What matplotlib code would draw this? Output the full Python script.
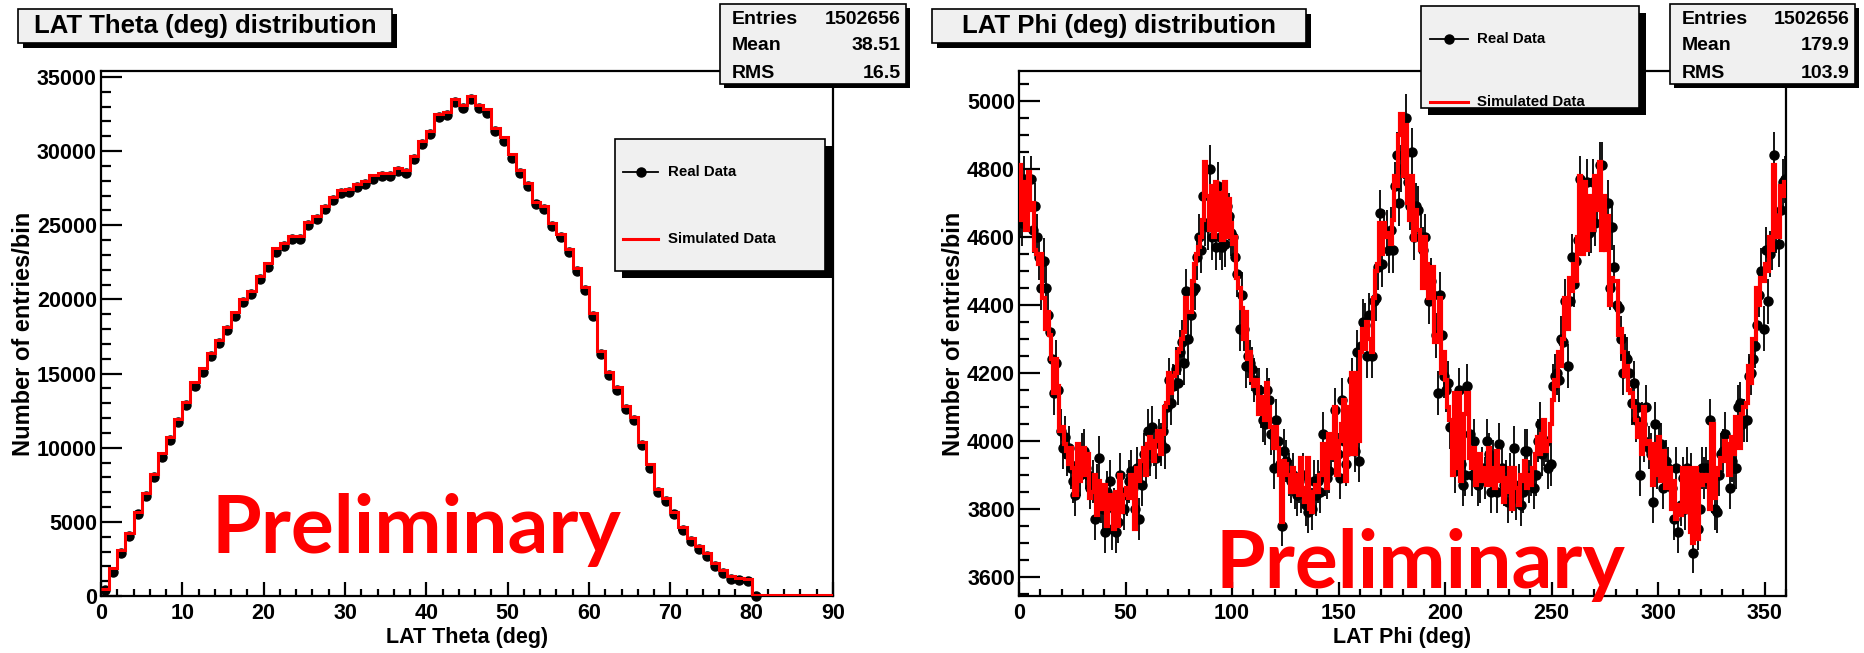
import numpy as np
import matplotlib
matplotlib.use("Agg")
import matplotlib.pyplot as plt
from matplotlib.patches import Rectangle
from matplotlib.ticker import MultipleLocator, FormatStrFormatter

# ---------------- data: 1 degree bins ----------------
# LAT theta, simulated (red histogram), bins 0..89
theta_sim = [500, 1860, 3130, 4280, 5680, 6960, 8230, 9630, 10730, 11930,
             13080, 14430, 15370, 16390, 17280, 18170, 19120, 20040, 20550, 21560,
             22430, 23450, 23780, 24290, 24290, 25240, 25640, 26330, 26920, 27350,
             27430, 27780, 27990, 28370, 28550, 28500, 28880, 28700, 29650, 30660,
             31350, 32530, 32630, 33520, 33090, 33720, 33090, 32830, 31560, 30920,
             29770, 28750, 27860, 26590, 26330, 25180, 24420, 23400, 22130, 20850,
             19070, 16520, 15120, 14100, 12820, 12060, 10400, 8870, 7210, 6580,
             5680, 4660, 3900, 3390, 2880, 2240, 1730, 1350, 1220, 1170,
             90, 70, 60, 60, 60, 60, 60, 60, 60, 60]
# LAT theta, real data (black points), bins 0..80
theta_real = [380, 1650, 2900, 4050, 5500, 6750, 8000, 9400, 10500, 11700,
              12850, 14150, 15100, 16150, 17050, 17950, 18900, 19800, 20350, 21350,
              22200, 23200, 23600, 24100, 24100, 25000, 25400, 26100, 26700, 27150,
              27250, 27550, 27800, 28150, 28350, 28300, 28650, 28500, 29450, 30450,
              31150, 32300, 32450, 33300, 32900, 33500, 32900, 32600, 31350, 30700,
              29550, 28550, 27650, 26400, 26100, 24950, 24200, 23200, 21900, 20650,
              18850, 16350, 14900, 13900, 12600, 11850, 10200, 8650, 7000, 6400,
              5500, 4450, 3700, 3200, 2700, 2050, 1550, 1150, 1050, 1000,
              20]

# LAT phi, real data (black points), bins 0..359
phi_real = [4670, 4640, 4770, 4700, 4690, 4770, 4620, 4690, 4600, 4540,
            4450, 4530, 4450, 4370, 4320, 4240, 4140, 4230, 4150, 4030,
            3980, 4010, 3960, 3980, 3920, 3880, 3840, 3930, 3900, 3960,
            3970, 3920, 3900, 3860, 3880, 3770, 3870, 3950, 3820, 3800,
            3730, 3850, 3880, 3740, 3800, 3730, 3760, 3900, 3850, 3800,
            3840, 3880, 3910, 3860, 3800, 3920, 3770, 3870, 3960, 3930,
            4030, 3960, 4040, 3990, 3950, 4000, 3990, 4030, 3980, 4100,
            4180, 4110, 4160, 4210, 4170, 4260, 4290, 4230, 4440, 4300,
            4370, 4440, 4450, 4540, 4600, 4560, 4720, 4640, 4630, 4800,
            4600, 4700, 4570, 4750, 4600, 4570, 4580, 4690, 4660, 4610,
            4600, 4540, 4490, 4330, 4430, 4330, 4220, 4250, 4230, 4210,
            4180, 4150, 4150, 4100, 4060, 4050, 4150, 4120, 4020, 3920,
            4060, 4000, 3930, 3750, 3970, 3940, 3900, 3880, 3900, 3860,
            3840, 3880, 3850, 3900, 3810, 3790, 3840, 3800, 3880, 3840,
            3880, 3850, 4020, 3900, 3890, 3910, 3960, 4000, 4090, 3960,
            3890, 4120, 4000, 3930, 3970, 4030, 4180, 3970, 4260, 3940,
            4280, 4350, 4340, 4250, 4370, 4250, 4410, 4420, 4510, 4670,
            4520, 4610, 4610, 4560, 4620, 4560, 4750, 4840, 4700, 4800,
            4840, 4950, 4760, 4690, 4850, 4600, 4690, 4680, 4600, 4560,
            4600, 4510, 4410, 4470, 4430, 4310, 4140, 4430, 4310, 4190,
            4150, 4170, 4040, 4050, 3910, 3990, 4150, 3930, 3870, 3900,
            4160, 4020, 3900, 4000, 3930, 3870, 3880, 3920, 3890, 4000,
            3960, 3850, 3940, 3900, 3850, 3990, 3920, 3870, 3880, 3820,
            3900, 3850, 3980, 3830, 3870, 3810, 3850, 3970, 3970, 3880,
            3900, 3860, 3900, 4000, 4050, 3960, 3990, 4000, 3920, 3930,
            4160, 4190, 4200, 4180, 4300, 4290, 4410, 4220, 4410, 4540,
            4460, 4530, 4590, 4770, 4680, 4660, 4760, 4610, 4620, 4760,
            4640, 4700, 4810, 4810, 4640, 4630, 4700, 4450, 4630, 4510,
            4400, 4390, 4300, 4200, 4250, 4240, 4200, 4110, 4170, 4060,
            4100, 3900, 4050, 4000, 4100, 3980, 3960, 3820, 4050, 3920,
            3980, 3990, 3860, 3940, 3920, 3870, 3860, 3770, 3920, 3730,
            3810, 3890, 3800, 3920, 3830, 3900, 3670, 3760, 3740, 3800,
            3920, 3890, 3920, 3880, 4060, 3850, 3800, 3790, 3900, 3960,
            3970, 4020, 3960, 3860, 3940, 3920, 3920, 4100, 4110, 4050,
            4060, 4060, 4190, 4200, 4240, 4280, 4340, 4430, 4500, 4330,
            4560, 4410, 4550, 4570, 4840, 4620, 4580, 4680, 4760, 4770]

# LAT phi, simulated (red histogram), bins 0..359
phi_sim = [4810, 4650, 4760, 4620, 4790, 4680, 4700, 4560, 4550, 4520,
           4550, 4420, 4330, 4380, 4310, 4240, 4140, 4240, 4160, 4030,
           4040, 3990, 3970, 3930, 3980, 3920, 3840, 3990, 3880, 3960,
           3980, 3900, 3960, 3830, 3850, 3900, 3780, 3880, 3850, 3800,
           3870, 3750, 3840, 3800, 3740, 3850, 3750, 3900, 3790, 3840,
           3860, 3830, 3900, 3870, 3740, 3920, 3880, 3940, 3980, 3900,
           3990, 4010, 3980, 3940, 4000, 4030, 3960, 4020, 4100, 4110,
           4200, 4140, 4190, 4200, 4260, 4270, 4300, 4320, 4420, 4380,
           4380, 4470, 4520, 4550, 4570, 4600, 4650, 4820, 4720, 4620,
           4750, 4600, 4760, 4620, 4730, 4590, 4760, 4600, 4710, 4640,
           4580, 4600, 4480, 4450, 4390, 4300, 4380, 4240, 4260, 4180,
           4160, 4180, 4080, 4100, 4130, 4060, 4170, 4100, 4040, 3980,
           4040, 3980, 3900, 3760, 3940, 3930, 3900, 3850, 3920, 3850,
           3900, 3840, 3950, 3860, 3820, 3950, 3800, 3790, 3850, 3870,
           3850, 3900, 3990, 3920, 3860, 4020, 3980, 3950, 4100, 3900,
           4000, 4050, 4120, 3880, 4100, 3960, 4200, 3960, 4200, 4000,
           4260, 4330, 4270, 4350, 4300, 4260, 4420, 4500, 4520, 4640,
           4550, 4640, 4600, 4610, 4580, 4650, 4780, 4750, 4900, 4960,
           4780, 4930, 4700, 4650, 4780, 4590, 4680, 4620, 4560, 4450,
           4600, 4520, 4420, 4480, 4510, 4290, 4310, 4420, 4200, 4260,
           4180, 4100, 4060, 3900, 4140, 3920, 4140, 3880, 3950, 4080,
           4140, 3950, 3920, 3980, 3870, 3920, 3960, 3880, 3920, 3870,
           3980, 3870, 3920, 3860, 3970, 3880, 3920, 3820, 3890, 3850,
           3920, 3800, 3920, 3860, 3810, 3900, 3880, 3940, 3860, 3900,
           3870, 3920, 3960, 4010, 3960, 4020, 4060, 3970, 4000, 4050,
           4120, 4180, 4160, 4260, 4220, 4300, 4420, 4330, 4480, 4440,
           4520, 4470, 4600, 4780, 4550, 4760, 4560, 4700, 4720, 4620,
           4780, 4680, 4820, 4560, 4720, 4560, 4660, 4400, 4480, 4470,
           4470, 4310, 4330, 4260, 4190, 4220, 4150, 4140, 4100, 4060,
           4010, 4050, 3960, 4100, 3990, 4000, 3950, 3870, 3990, 3900,
           4010, 3880, 3970, 3860, 3890, 3920, 3800, 3880, 3770, 3810,
           3780, 3920, 3790, 3850, 3920, 3730, 3700, 3920, 3710, 3900,
           3870, 3900, 3880, 3900, 3800, 4050, 3830, 3900, 3920, 3950,
           3940, 4000, 3990, 3900, 4010, 3960, 4070, 4040, 3980, 4080,
           4100, 4110, 4220, 4170, 4300, 4300, 4450, 4400, 4480, 4470,
           4520, 4500, 4600, 4560, 4810, 4660, 4600, 4750, 4720, 4760]

stats_theta = [("Entries", "1502656"), ("Mean", "38.51"), ("RMS", "16.5")]
stats_phi = [("Entries", "1502656"), ("Mean", "179.9"), ("RMS", "103.9")]

# ---------------- figure ----------------
plt.rcParams['font.family'] = ['Liberation Sans', 'DejaVu Sans']
plt.rcParams['font.weight'] = 'bold'
plt.rcParams['axes.labelweight'] = 'bold'

W, H = 1864, 653
fig = plt.figure(figsize=(W / 100, H / 100), dpi=100)
fig.patch.set_facecolor('white')


def px_axes(x0, y0, x1, y1):
    # pixel box (top-left origin) -> figure fraction
    return fig.add_axes([x0 / W, 1 - y1 / H, (x1 - x0) / W, (y1 - y0) / H])


def style(ax, xmaj, xmin, ymaj, ymin):
    for s in ax.spines.values():
        s.set_linewidth(1.6)
    ax.xaxis.set_major_locator(MultipleLocator(xmaj))
    ax.xaxis.set_minor_locator(MultipleLocator(xmin))
    ax.yaxis.set_major_locator(MultipleLocator(ymaj))
    ax.yaxis.set_minor_locator(MultipleLocator(ymin))
    ax.xaxis.set_major_formatter(FormatStrFormatter('%d'))
    ax.yaxis.set_major_formatter(FormatStrFormatter('%d'))
    ax.tick_params(which='both', direction='in', width=1.6, labelsize=15.5,
                   top=False, right=False)
    ax.tick_params(axis='y', which='major', length=15, pad=3)
    ax.tick_params(axis='y', which='minor', length=7.5)
    ax.tick_params(axis='x', which='major', length=10, pad=5)
    ax.tick_params(axis='x', which='minor', length=5)


# ---- left: theta ----
ax1 = px_axes(101, 71, 833, 596)
edges_t = np.arange(len(theta_sim) + 1)
cent_t = np.arange(len(theta_real)) + 0.5
real_t = np.array(theta_real, dtype=float)
ax1.errorbar(cent_t, real_t, yerr=np.sqrt(real_t), xerr=0.5, fmt='o', color='black',
             ms=6.5, elinewidth=1.3, capsize=0, clip_on=False, zorder=2)
ax1.stairs(theta_sim, edges_t, color='red', lw=2.2, baseline=None, zorder=3)
ax1.set_xlim(0, 90)
ax1.set_ylim(0, 35400)
style(ax1, 10, 2, 5000, 1000)
ax1.set_xlabel('LAT Theta (deg)', fontsize=15.5, labelpad=2)
ax1.set_ylabel('Number of entries/bin', fontsize=17, labelpad=1)

# ---- right: phi ----
ax2 = px_axes(1019, 71, 1786, 596)
edges_p = np.arange(len(phi_sim) + 1)
cent_p = np.arange(len(phi_real)) + 0.5
real_p = np.array(phi_real, dtype=float)
ax2.errorbar(cent_p, real_p, yerr=np.sqrt(real_p), xerr=0.5, fmt='o', color='black',
             ms=6.5, elinewidth=1.3, capsize=0, zorder=2)
ax2.stairs(phi_sim, edges_p, color='red', lw=3.0, baseline=None, zorder=3)
ax2.set_xlim(0, 360)
ax2.set_ylim(3543, 5088)
style(ax2, 50, 10, 200, 50)
ax2.set_xlabel('LAT Phi (deg)', fontsize=15.5, labelpad=2)
ax2.set_ylabel('Number of entries/bin', fontsize=17, labelpad=1)

# ---- overlay for ROOT boxes and annotation ----
ov = fig.add_axes([0, 0, 1, 1], zorder=5)
ov.set_xlim(0, W)
ov.set_ylim(H, 0)
ov.axis('off')


def box(x0, y0, x1, y1, sh):
    ov.add_patch(Rectangle((x0 + sh, y0 + sh), x1 - x0, y1 - y0, fc='black', ec='none'))
    ov.add_patch(Rectangle((x0, y0), x1 - x0, y1 - y0, fc='#f0f0f0', ec='black', lw=1.2))


def stats(x0, x1, rows):
    box(x0, 4, x1, 84, 4)
    for i, (k, v) in enumerate(rows):
        y = 19 + i * 27
        ov.text(x0 + 12, y, k, fontsize=14, va='center', ha='left')
        ov.text(x1 - 5, y, v, fontsize=14, va='center', ha='right')


def legend(x0, y0, x1, y1, sh, lx0, lx1, tx, y_real, y_sim):
    box(x0, y0, x1, y1, sh)
    ov.plot([lx0, lx1], [y_real, y_real], color='black', lw=1.3)
    ov.plot([(lx0 + lx1) / 2], [y_real], 'o', color='black', ms=6.5)
    ov.text(tx, y_real, 'Real Data', fontsize=10.8, va='center', ha='left')
    ov.plot([lx0, lx1], [y_sim, y_sim], color='red', lw=2.2)
    ov.text(tx, y_sim, 'Simulated Data', fontsize=10.8, va='center', ha='left')


# titles
box(18, 9, 392, 43, 5)
ov.text(205, 26, 'LAT Theta (deg) distribution', fontsize=18.5, va='center', ha='center')
box(932, 9, 1306, 43, 5)
ov.text(1119, 26, 'LAT Phi (deg) distribution', fontsize=18.5, va='center', ha='center')

stats(720, 906, stats_theta)
stats(1670, 1855, stats_phi)

legend(615, 139, 825, 271, 7, 623, 658, 668, 172, 239)
legend(1421, 6, 1639, 108, 7, 1430, 1468, 1477, 39, 102)

# "Preliminary" stamps
ov.text(212, 553, 'Preliminary', color='#ff0000', fontsize=58, family=['Lato', 'DejaVu Sans'],
        fontweight='bold', va='baseline', ha='left')
ov.text(1215, 588, 'Preliminary', color='#ff0000', fontsize=58, family=['Lato', 'DejaVu Sans'],
        fontweight='bold', va='baseline', ha='left')

fig.savefig('out.png', dpi=100)
